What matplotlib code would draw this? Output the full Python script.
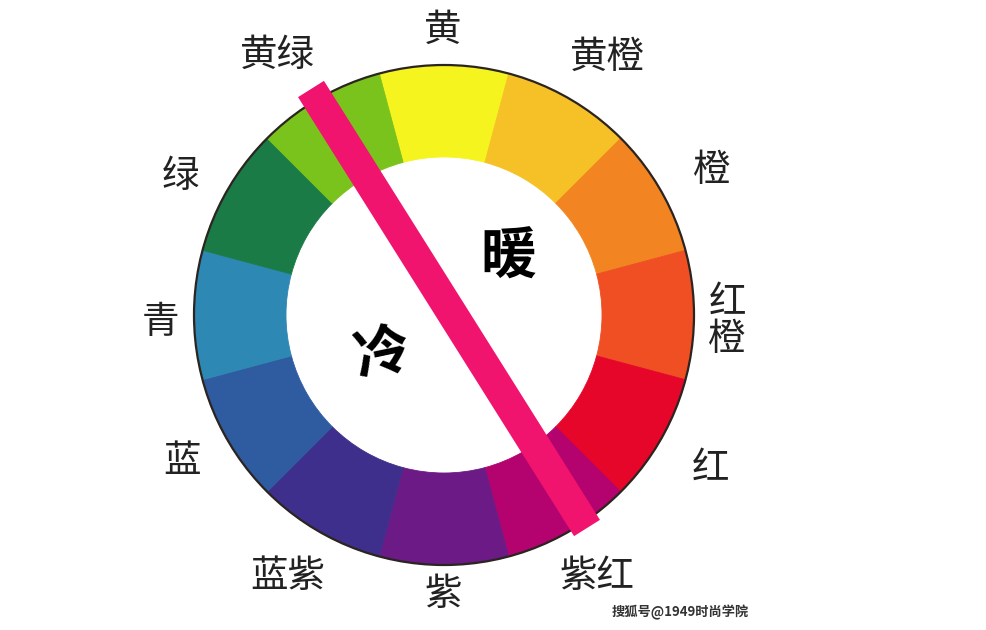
import matplotlib
matplotlib.use("Agg")
import matplotlib.pyplot as plt
from matplotlib.patches import Circle

plt.rcParams['font.family'] = ['Noto Sans CJK SC', 'DejaVu Sans']

W, H = 986, 630

# wheel segments, clockwise from the top
segment_names = ["黄", "黄橙", "橙", "红橙", "红", "紫红", "紫", "蓝紫", "蓝", "青", "绿", "黄绿"]
segment_colors = ["#F5F41F", "#F5C127", "#F28521", "#EF4F23", "#E6062A", "#B4026F",
                  "#6B1A86", "#3F2F8C", "#2F5CA0", "#2D88B3", "#1A7B47", "#7AC21C"]
segment_sizes = [1] * 12

# label anchors in picture pixels (x, y from top)
label_pos = [(443, 30), (607, 57), (712, 170), (727, 321), (710, 468), (597, 577),
             (443, 594), (288, 577), (182, 462), (160, 323), (180, 176), (277, 55)]
label_text = ["黄", "黄橙", "橙", "红\n橙", "红", "紫红", "紫", "蓝紫", "蓝", "青", "绿", "黄绿"]

wheel_center = (444, 315)
outer_r = 250
inner_r = 158

bar_start = (311, 89)
bar_end = (587, 528)

fig = plt.figure(figsize=(W / 100, H / 100), dpi=100)
ax = fig.add_axes([0, 0, 1, 1])

cx, cy = wheel_center[0], H - wheel_center[1]
wedges, _ = ax.pie(
    segment_sizes,
    colors=segment_colors,
    startangle=105,
    counterclock=False,
    radius=outer_r,
    center=(cx, cy),
    wedgeprops=dict(width=outer_r - inner_r, linewidth=0.6),
)
for w, c in zip(wedges, segment_colors):
    w.set_edgecolor(c)

ax.add_patch(Circle((cx, cy), outer_r, fill=False, edgecolor="#2b2420", lw=1.6, zorder=3))

# warm / cold divider
ax.plot([bar_start[0], bar_end[0]], [H - bar_start[1], H - bar_end[1]],
        color="#F0146E", lw=22, solid_capstyle="butt", zorder=4)

ax.text(508, H - 258, "暖", fontsize=40, fontweight="bold", ha="center", va="center", color="black")
ax.text(383, H - 354, "冷", fontsize=40, fontweight="bold", ha="center", va="center",
        rotation=12, color="black")

for (x, y), t in zip(label_pos, label_text):
    ax.text(x, H - y, t, fontsize=27, ha="center", va="center", color="#222222",
            linespacing=0.95)

ax.text(680, H - 612, "搜狐号@1949时尚学院", fontsize=9.5, ha="center", va="center",
        color="#333333", fontweight="bold")

ax.set_xlim(0, W)
ax.set_ylim(0, H)
ax.set_aspect("auto")
ax.axis("off")

fig.savefig("out.png", dpi=100, facecolor="white")
